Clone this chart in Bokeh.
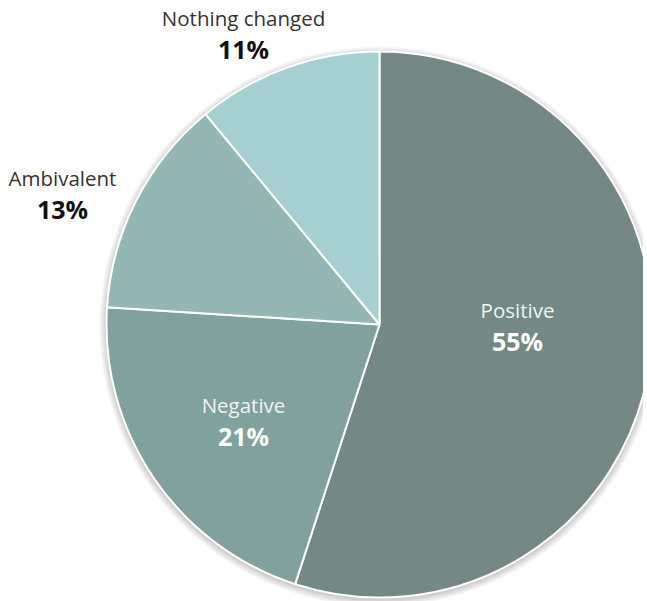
import numpy as np
from bokeh.plotting import figure
from bokeh.models import Range1d, ColumnDataSource
from bokeh.core.properties import value
from bokeh.embed import file_html
from bokeh.resources import INLINE

# ---- data ----
categories = ["Positive", "Negative", "Ambivalent", "Nothing changed"]
shares = [55, 21, 13, 11]
colors = ["#748985", "#80a19d", "#94b7b6", "#a5cfd0"]

# ---- layout constants (pixel space of the page) ----
W, H = 643, 601
OX, OY = 0, 0
CX, CY, R = 379, 324, 273
# label anchor (center x, baseline of name) in page pixels
label_pos = [(517, 309), (243, 404), (62, 177), (243, 17)]
inside = [True, True, False, False]

p = figure(width=W, height=H, output_backend="svg", toolbar_location=None,
           x_range=Range1d(OX, OX + W), y_range=Range1d(-(OY + H), -OY),
           min_border=0)
p.axis.visible = False
p.grid.visible = False
p.outline_line_color = None
p.background_fill_color = "white"

# soft drop shadow
for i in range(1, 9):
    p.circle(x=CX, y=-(CY + 2), radius=R + i * 0.9, fill_color="#000000",
             fill_alpha=0.022, line_color=None)

vals = np.array(shares, dtype=float)
frac = vals / vals.sum()
ends = np.cumsum(frac) * 2 * np.pi
starts = ends - frac * 2 * np.pi
start_ang = np.pi / 2 - starts
end_ang = np.pi / 2 - ends

src = ColumnDataSource(dict(cat=categories, s=start_ang, e=end_ang, c=colors))
p.wedge(x=CX, y=-CY, radius=R, start_angle="s", end_angle="e", direction="clock",
        fill_color="c", line_color="white", line_width=2, source=src)

name_x, name_y, pct_y, name_col, pct_col, pct_txt = [], [], [], [], [], []
for (lx, ly), ins, cat, v in zip(label_pos, inside, categories, shares):
    name_x.append(lx)
    name_y.append(-ly)
    pct_y.append(-(ly + 31))
    name_col.append("#f2f2f2" if ins else "#333333")
    pct_col.append("#ffffff" if ins else "#111111")
    pct_txt.append(f"{v}%")

lsrc = ColumnDataSource(dict(x=name_x, y=name_y, y2=pct_y, t=categories,
                             t2=pct_txt, c=name_col, c2=pct_col))
p.text(x="x", y="y", text="t", text_color="c", source=lsrc,
       text_align="center", text_baseline="alphabetic",
       text_font=value("Open Sans"), text_font_size="20.5px")
p.text(x="x", y="y2", text="t2", text_color="c2", source=lsrc,
       text_align="center", text_baseline="alphabetic",
       text_font=value("Open Sans"), text_font_style="bold",
       text_font_size="25px")

open("out.html", "w").write(file_html(p, INLINE))
